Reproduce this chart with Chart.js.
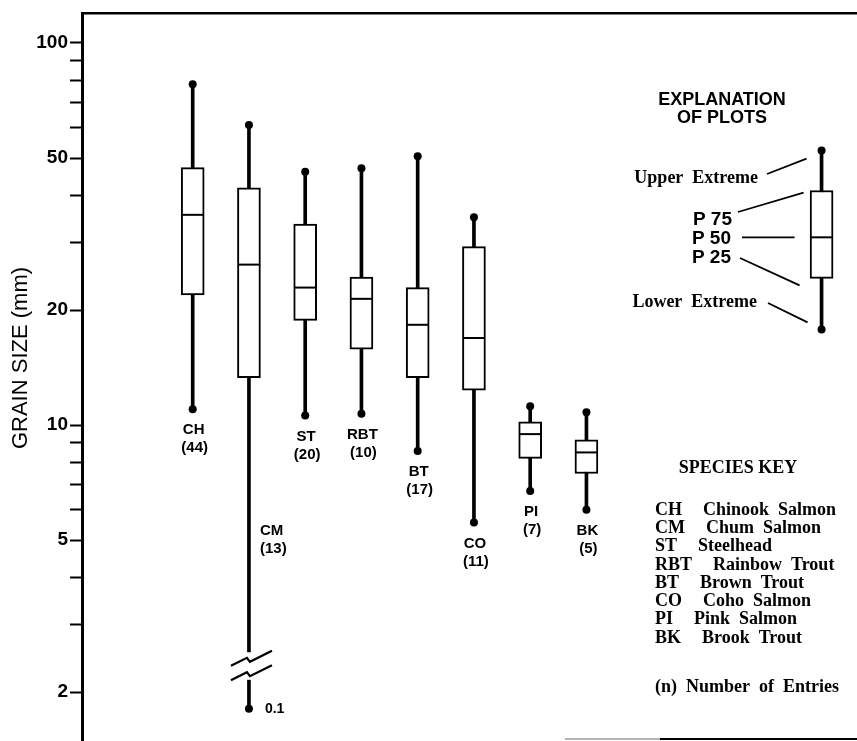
<!DOCTYPE html>
<html>
<head>
<meta charset="utf-8">
<script src="https://cdn.jsdelivr.net/npm/chart.js@4"></script>
<style>
  html, body { margin: 0; padding: 0; background: #fff; }
  canvas { display: block; }
</style>
</head>
<body>
<canvas id="c" width="857" height="741"></canvas>
<script>
// Species codes, names and number of entries
const species = ['CH', 'CM', 'ST', 'RBT', 'BT', 'CO', 'PI', 'BK'];
const speciesNames = ['Chinook  Salmon', 'Chum  Salmon', 'Steelhead', 'Rainbow  Trout',
                      'Brown  Trout', 'Coho  Salmon', 'Pink  Salmon', 'Brook  Trout'];
const entries = [44, 13, 20, 10, 17, 11, 7, 5];

// Spawning gravel grain size statistics (mm)
const upperExtreme = [78, 61, 46, 47, 50.5, 35, 11.2, 10.8];
const p75          = [47.2, 41.8, 33.6, 24.4, 22.9, 29.3, 10.2, 9.15];
const p50          = [35.5, 26.3, 22.9, 21.4, 18.3, 16.9, 9.47, 8.48];
const p25          = [21.9, 13.3, 18.8, 15.8, 13.3, 12.35, 8.18, 7.47];
const lowerExtreme = [11.0, 0.1, 10.6, 10.7, 8.55, 5.56, 6.72, 6.0];

// Example plot for the explanation panel: lower, P25, P50, P75, upper
const explanationStats = [17.8, 24.2, 31.0, 41.1, 52.3];
const explanationLabels = ['Lower  Extreme', 'P 25', 'P 50', 'P 75', 'Upper  Extreme'];

// Y axis ticks
const labeledTicks = [2, 5, 10, 20, 50, 100];
const minorTicks = [3, 4, 6, 7, 8, 9, 30, 40, 60, 70, 80, 90];

// Axis extents and the broken-axis section
const Y_MIN = 1.49, Y_MAX = 119.8;
const BREAK_TOP = 2.55, BREAK_BOTTOM = 2.15, OFFSCALE_AT = 1.81;
const SIDE_LABEL_AT = 5.05;
const X_MIN = -0.968, X_MAX = 12.81, EXPLANATION_X = 12.18;

const SANS = '"Liberation Sans", Arial, Helvetica, sans-serif';
const SERIF = '"Liberation Serif", "Times New Roman", serif';

// Build plot rows: species at x = 1..8, explanation plot on the right
const rows = species.map((s, i) => ({
  x: i + 1, lo: lowerExtreme[i], q1: p25[i], med: p50[i], q3: p75[i], hi: upperExtreme[i]
}));
rows.push({ x: EXPLANATION_X, lo: explanationStats[0], q1: explanationStats[1],
            med: explanationStats[2], q3: explanationStats[3], hi: explanationStats[4] });

const broken = r => r.lo < Y_MIN;
const whiskerTop = rows.map(r => ({ x: r.x, y: [broken(r) ? BREAK_TOP : r.lo, r.hi] }));
const whiskerLow = rows.filter(broken).map(r => ({ x: r.x, y: [OFFSCALE_AT, BREAK_BOTTOM] }));
const boxes = rows.map(r => ({ x: r.x, y: [r.q1, r.q3] }));
const medians = rows.map(r => ({ x: r.x, y: r.med }));
const extremes = [];
rows.forEach(r => {
  extremes.push({ x: r.x, y: r.hi });
  extremes.push({ x: r.x, y: broken(r) ? OFFSCALE_AT : r.lo });
});

function text(ctx, str, x, y, font, align) {
  ctx.font = font;
  ctx.textAlign = align || 'center';
  ctx.textBaseline = 'middle';
  ctx.fillStyle = '#000';
  ctx.fillText(str, x, y);
}
function line(ctx, pts, w, color) {
  ctx.beginPath();
  ctx.moveTo(pts[0][0], pts[0][1]);
  for (let k = 1; k < pts.length; k++) ctx.lineTo(pts[k][0], pts[k][1]);
  ctx.lineWidth = w;
  ctx.strokeStyle = color || '#000';
  ctx.stroke();
}

const annotations = {
  id: 'annotations',
  afterDatasetsDraw(chart) {
    const ctx = chart.ctx;
    const xs = chart.scales.x, ys = chart.scales.y;
    ctx.save();

    // Axis title
    ctx.save();
    ctx.translate(21, 358);
    ctx.rotate(-Math.PI / 2);
    text(ctx, 'GRAIN SIZE (mm)', 0, 0, '22px ' + SANS);
    ctx.restore();

    // Species labels under (or beside) each plot
    const lab = 'bold 15px ' + SANS;
    species.forEach((s, i) => {
      const r = rows[i];
      const px = xs.getPixelForValue(r.x);
      if (broken(r)) {
        const py = ys.getPixelForValue(SIDE_LABEL_AT);
        text(ctx, s, px + 11, py - 8, lab, 'left');
        text(ctx, '(' + entries[i] + ')', px + 11, py + 10, lab, 'left');
        // Break symbol on the whisker
        const yt = ys.getPixelForValue(BREAK_TOP) + 6;
        const yb = ys.getPixelForValue(BREAK_BOTTOM) - 8;
        [yt, yb].forEach(yy => {
          line(ctx, [[px - 18, yy + 8], [px - 2, yy], [px + 1, yy + 4], [px + 23, yy - 7]], 2.2);
        });
        const dy = ys.getPixelForValue(OFFSCALE_AT);
        text(ctx, String(r.lo), px + 16, dy, 'bold 14px ' + SANS, 'left');
      } else {
        const dy = ys.getPixelForValue(r.lo);
        text(ctx, s, px + 1, dy + 21, lab);
        text(ctx, '(' + entries[i] + ')', px + 2, dy + 39, lab);
      }
    });

    // Explanation panel
    const ex = xs.getPixelForValue(EXPLANATION_X);
    const py = v => ys.getPixelForValue(v);
    const head = 'bold 18px ' + SANS;
    const serif = 'bold 18px ' + SERIF;
    const pct = 'bold 19px ' + SANS;
    text(ctx, 'EXPLANATION', 722, 100, head);
    text(ctx, 'OF PLOTS', 722, 118, head);
    text(ctx, explanationLabels[4], 758, 178, serif, 'right');
    text(ctx, explanationLabels[3], 732, 220, pct, 'right');
    text(ctx, explanationLabels[2], 731, 239, pct, 'right');
    text(ctx, explanationLabels[1], 731, 258, pct, 'right');
    text(ctx, explanationLabels[0], 757, 302, serif, 'right');
    line(ctx, [[767, 174], [ex - 15, py(explanationStats[4]) + 8]], 1.8);
    line(ctx, [[738, 212], [ex - 18, py(explanationStats[3]) + 2]], 1.8);
    line(ctx, [[742, py(explanationStats[2])], [ex - 27, py(explanationStats[2])]], 1.8);
    line(ctx, [[740, 258], [ex - 22, py(explanationStats[1]) + 7]], 1.8);
    line(ctx, [[768, 303], [ex - 14, py(explanationStats[0]) - 7]], 1.8);

    // Species key
    text(ctx, 'SPECIES KEY', 738, 468, serif);
    ctx.font = serif;
    species.forEach((s, i) => {
      const yy = 510 + 18.3 * i;
      const w = ctx.measureText(s).width;
      text(ctx, s, 655, yy, serif, 'left');
      text(ctx, speciesNames[i], 655 + w + 21, yy, serif, 'left');
    });
    text(ctx, '(n)  Number  of  Entries', 655, 687, serif, 'left');

    // Lower edge of the frame
    line(ctx, [[565, 739], [660, 739]], 2, '#b5b5b5');
    line(ctx, [[660, 739], [857, 739]], 2.2, '#000');
    ctx.restore();
  }
};

new Chart(document.getElementById('c').getContext('2d'), {
  type: 'bar',
  data: {
    datasets: [
      { type: 'scatter', data: extremes, pointRadius: 4, pointBackgroundColor: '#000',
        pointBorderWidth: 0, order: 0 },
      { type: 'scatter', data: medians, pointStyle: 'line', pointRadius: 11,
        pointBorderWidth: 2, pointBorderColor: '#000', order: 1 },
      { type: 'bar', data: boxes, barThickness: 23, backgroundColor: '#fff',
        borderColor: '#000', borderWidth: 2, borderSkipped: false, grouped: false, order: 2 },
      { type: 'bar', data: whiskerTop, barThickness: 3, backgroundColor: '#000',
        borderWidth: 0, grouped: false, order: 3 },
      { type: 'bar', data: whiskerLow, barThickness: 3, backgroundColor: '#000',
        borderWidth: 0, grouped: false, order: 3 }
    ]
  },
  options: {
    responsive: false,
    animation: false,
    events: [],
    layout: { autoPadding: false, padding: { top: 13, right: 0, bottom: 0, left: 0 } },
    plugins: { legend: { display: false }, tooltip: { enabled: false } },
    scales: {
      x: { type: 'linear', min: X_MIN, max: X_MAX, offset: false, display: false },
      xTop: {
        type: 'linear', position: 'top', min: X_MIN, max: X_MAX, offset: false,
        ticks: { display: false }, grid: { display: false, drawTicks: false },
        border: { display: true, width: 2.5, color: '#000' },
        afterFit(s) { s.height = 0; s.paddingLeft = 0; s.paddingRight = 0; }
      },
      y: {
        type: 'logarithmic', min: Y_MIN, max: Y_MAX,
        afterFit(s) { s.width = 82; s.paddingTop = 0; s.paddingBottom = 0; },
        afterBuildTicks(s) {
          s.ticks = labeledTicks.concat(minorTicks).sort((a, b) => a - b).map(v => ({ value: v }));
        },
        ticks: {
          autoSkip: false, padding: 2, color: '#000',
          font: { family: SANS, size: 19, weight: 'bold' },
          callback: v => labeledTicks.includes(v) ? String(v) : ''
        },
        grid: { drawOnChartArea: false, tickLength: 12, tickWidth: 2, color: '#000' },
        border: { display: true, width: 3, color: '#000' }
      }
    }
  },
  plugins: [annotations]
});
</script>
</body>
</html>
